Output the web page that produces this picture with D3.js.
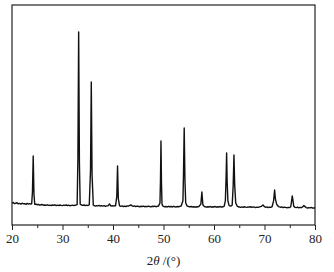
<!DOCTYPE html>
<html>
<head>
<meta charset="utf-8">
<script src="https://cdn.jsdelivr.net/npm/d3@7"></script>
<style>
  body { margin: 0; background: #fff; }
  svg { display: block; }
</style>
</head>
<body>
<div id="chart"></div>
<script>
// XRD pattern [2theta, intensity]
const pattern = [
  [20.0, 99], [20.25, 102], [20.5, 97], [20.75, 99], [21.0, 101], [21.25, 96], [21.5, 98], [21.75, 95],
  [22.0, 99], [22.25, 96], [22.5, 97], [22.75, 94], [23.0, 98], [23.25, 95], [23.5, 97], [23.75, 95],
  [23.9, 97], [24.05, 150], [24.2, 314], [24.35, 140], [24.5, 94], [24.75, 95], [25.0, 92], [25.25, 94],
  [25.5, 90], [25.75, 92], [26.0, 93], [26.25, 90], [26.5, 91], [26.75, 89], [27.0, 92], [27.25, 89],
  [27.5, 90], [27.75, 88], [28.0, 91], [28.25, 89], [28.5, 92], [28.75, 88], [29.0, 90], [29.25, 88],
  [29.5, 91], [29.75, 89], [30.0, 88], [30.25, 90], [30.5, 89], [30.75, 91], [31.0, 88], [31.25, 90],
  [31.5, 87], [31.75, 89], [32.0, 90], [32.25, 88], [32.5, 90], [32.7, 91], [32.9, 93], [33.05, 300],
  [33.2, 877], [33.35, 280], [33.5, 95], [33.75, 91], [34.0, 89], [34.25, 91], [34.5, 88], [34.75, 90],
  [35.0, 88], [35.3, 92], [35.55, 250], [35.7, 650], [35.85, 230], [36.1, 90], [36.3, 88], [36.5, 86],
  [36.75, 88], [37.0, 87], [37.25, 89], [37.5, 86], [37.75, 88], [38.0, 86], [38.25, 88], [38.5, 85],
  [38.75, 87], [39.0, 87], [39.3, 96], [39.6, 86], [39.8, 88], [40.0, 86], [40.25, 88], [40.5, 87],
  [40.75, 130], [40.9, 268], [41.05, 120], [41.3, 87], [41.55, 85], [41.8, 87], [42.05, 84], [42.3, 86],
  [42.55, 84], [42.8, 87], [43.05, 86], [43.3, 89], [43.6, 91], [43.8, 87], [44.0, 85], [44.25, 87],
  [44.5, 84], [44.75, 86], [45.0, 85], [45.25, 83], [45.5, 85], [45.75, 84], [46.0, 86], [46.25, 83],
  [46.5, 85], [46.75, 83], [47.0, 86], [47.25, 84], [47.5, 83], [47.75, 85], [48.0, 84], [48.25, 86],
  [48.5, 83], [48.75, 85], [49.0, 86], [49.3, 100], [49.4, 200], [49.5, 382], [49.6, 190], [49.7, 96],
  [49.85, 87], [50.0, 85], [50.25, 83], [50.5, 84], [50.75, 82], [51.0, 85], [51.25, 83], [51.5, 84],
  [51.75, 82], [52.0, 85], [52.25, 83], [52.5, 82], [52.75, 84], [53.0, 83], [53.25, 85], [53.5, 86],
  [53.85, 110], [53.95, 220], [54.1, 441], [54.25, 200], [54.4, 100], [54.7, 86], [55.0, 84], [55.25, 82],
  [55.5, 84], [55.75, 82], [56.0, 83], [56.25, 81], [56.5, 83], [56.75, 82], [57.0, 84], [57.4, 95],
  [57.6, 150], [57.8, 92], [58.0, 86], [58.2, 83], [58.5, 81], [58.75, 83], [59.0, 82], [59.25, 84],
  [59.5, 81], [59.75, 83], [60.0, 82], [60.25, 84], [60.5, 81], [60.75, 83], [61.0, 82], [61.25, 84],
  [61.5, 81], [61.75, 83], [62.0, 85], [62.25, 110], [62.4, 220], [62.5, 327], [62.6, 200], [62.75, 110],
  [63.0, 88], [63.3, 86], [63.6, 90], [63.8, 180], [63.95, 318], [64.1, 180], [64.3, 100], [64.6, 86],
  [64.8, 83], [65.0, 82], [65.25, 80], [65.5, 82], [65.75, 80], [66.0, 83], [66.25, 81], [66.5, 80],
  [66.75, 82], [67.0, 81], [67.25, 83], [67.5, 80], [67.75, 82], [68.0, 81], [68.25, 79], [68.5, 81],
  [68.75, 80], [69.0, 82], [69.4, 85], [69.7, 91], [70.0, 83], [70.25, 80], [70.5, 82], [70.75, 79],
  [71.0, 81], [71.25, 80], [71.5, 83], [71.8, 110], [72.0, 159], [72.15, 120], [72.4, 95], [72.6, 88],
  [72.8, 84], [73.0, 82], [73.2, 80], [73.45, 82], [73.7, 79], [73.95, 81], [74.2, 80], [74.45, 78],
  [74.7, 80], [74.95, 79], [75.2, 83], [75.5, 132], [75.8, 85], [76.05, 80], [76.3, 79], [76.55, 81],
  [76.8, 78], [77.05, 80], [77.3, 79], [77.55, 82], [77.8, 89], [78.1, 82], [78.3, 79], [78.5, 77],
  [78.75, 79], [79.0, 78], [79.25, 80], [79.5, 77], [79.75, 78], [80.0, 77]
];

const xTicks = [20, 30, 40, 50, 60, 70, 80];
const xMinorTicks = [25, 35, 45, 55, 65, 75];

const W = 334, H = 272;
const margin = {top: 5, right: 19, bottom: 47, left: 12};
const width = W - margin.left - margin.right;
const height = H - margin.top - margin.bottom;

const svg = d3.select("#chart")
  .append("svg")
  .attr("width", W)
  .attr("height", H)
  .append("g")
  .attr("transform", `translate(${margin.left},${margin.top})`);

const x = d3.scaleLinear().domain([20, 80]).range([0, width]);
const y = d3.scaleLinear().domain([0, 1000]).range([height, 0]);

// minor ticks
svg.append("g")
  .attr("transform", `translate(0,${height})`)
  .call(d3.axisBottom(x).tickValues(xMinorTicks).tickSize(3).tickFormat(""))
  .call(g => g.select(".domain").remove())
  .selectAll("line").attr("stroke", "#222").attr("stroke-width", 1);

// major ticks + labels
const xAxis = svg.append("g")
  .attr("transform", `translate(0,${height})`)
  .call(d3.axisBottom(x).tickValues(xTicks).tickSize(5).tickPadding(4).tickFormat(d3.format("d")));
xAxis.select(".domain").remove();
xAxis.selectAll("line").attr("stroke", "#222").attr("stroke-width", 1);
xAxis.selectAll("text")
  .attr("fill", "#222")
  .style("font-family", "'Liberation Serif', 'DejaVu Serif', serif")
  .style("font-size", "13px");

// frame
svg.append("rect")
  .attr("x", 0).attr("y", 0)
  .attr("width", width).attr("height", height)
  .attr("fill", "none")
  .attr("stroke", "#222")
  .attr("stroke-width", 1.2);

// pattern
const line = d3.line().x(d => x(d[0])).y(d => y(d[1]));
svg.append("path")
  .datum(pattern)
  .attr("fill", "none")
  .attr("stroke", "#111")
  .attr("stroke-width", 1.4)
  .attr("stroke-linejoin", "round")
  .attr("d", line);

// x axis title
const title = svg.append("text")
  .attr("x", width / 2)
  .attr("y", height + 40)
  .attr("text-anchor", "middle")
  .attr("fill", "#222")
  .style("font-family", "'Liberation Serif', 'DejaVu Serif', serif")
  .style("font-size", "13px");
title.append("tspan").text("2");
title.append("tspan").style("font-style", "italic").text("θ");
title.append("tspan").text(" /(°)");
</script>
</body>
</html>
